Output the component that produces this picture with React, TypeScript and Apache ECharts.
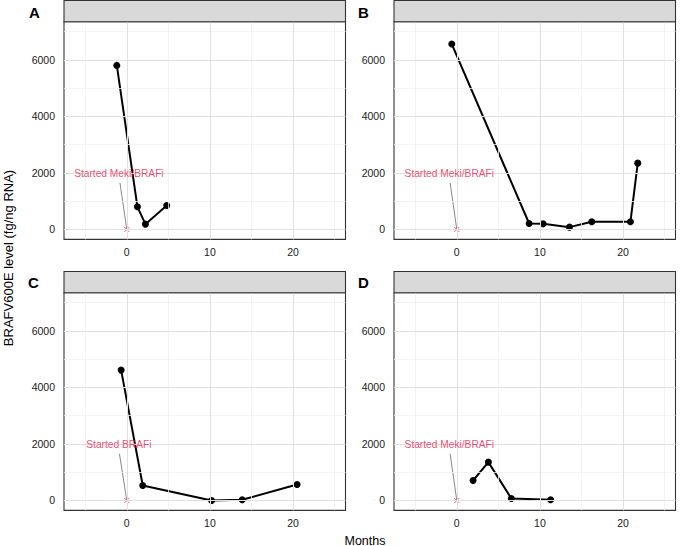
import React, { useEffect, useRef } from 'react';
import * as echarts from 'echarts';

// ---- data ----
const panelLabels = ['A', 'B', 'C', 'D'];
const monthsA = [-1.2, 1.28, 2.24, 4.8];
const levelA = [5800, 802, 189, 849];
const monthsB = [-0.6, 8.7, 10.38, 13.55, 16.23, 20.88, 21.76];
const levelB = [6554, 212, 200, 83, 271, 271, 2346];
const monthsC = [-0.68, 1.92, 10.2, 13.88, 20.48];
const levelC = [4609, 530, 0, 24, 566];
const monthsD = [1.96, 3.8, 6.56, 11.28];
const levelD = [707, 1356, 71, 24];

const treatmentText = ['Started Meki/BRAFi', 'Started Meki/BRAFi', 'Started BRAFi', 'Started Meki/BRAFi'];
const startMonth = [0, 0, 0, 0];
const startLevel = [0, 0, 0, 0];
const textMonth = [-0.95, -0.9, -0.95, -0.9];
const textLevel = [1980, 1980, 1980, 1980];
const segStartMonth = [-0.82, -0.8, -0.88, -0.8];
const segStartLevel = [1650, 1650, 1650, 1650];

const xTicks = [0, 10, 20];
const xMinor = [-5, 5, 15, 25];
const yTicks = [0, 2000, 4000, 6000];
const yMinor = [1000, 3000, 5000, 7000];
const X_MIN = -7.55;
const X_MAX = 26.3;
const Y_MIN = -350;
const Y_MAX = 7345;

const xTitle = 'Months';
const yTitle = 'BRAFV600E level (fg/ng RNA)';

// ---- layout ----
const panelPos = [
  { left: 64, top: 21.7 },
  { left: 394, top: 21.7 },
  { left: 64, top: 292.7 },
  { left: 394, top: 292.7 },
];
const letterPos = [
  [34.5, 12],
  [363.5, 12],
  [33.5, 282],
  [363.5, 282],
];
const PW = 281.5;
const PH = 217.7;
const STRIP_H = 21.2;
const FONT = '"Liberation Sans", Arial, Helvetica, sans-serif';
const RED = '#e8204c';
const MAJOR = '#e0e0e0';
const MINOR = '#f0f0f0';

export default function App() {
  const ref = useRef<HTMLDivElement>(null);
  useEffect(() => {
    if (!ref.current) return;
    const chart = echarts.init(ref.current, undefined, { renderer: 'svg' });
    const months = [monthsA, monthsB, monthsC, monthsD];
    const levels = [levelA, levelB, levelC, levelD];

    const grid: any[] = [];
    const xAxis: any[] = [];
    const yAxis: any[] = [];
    const series: any[] = [];
    const graphic: any[] = [];

    panelPos.forEach((p, i) => {
      grid.push({
        left: p.left,
        top: p.top,
        width: PW,
        height: PH,
        show: true,
        backgroundColor: '#fff',
        borderColor: '#333',
        borderWidth: 1.1,
        containLabel: false,
      });
      xAxis.push({
        type: 'value',
        gridIndex: i,
        min: X_MIN,
        max: X_MAX,
        axisLine: { show: false },
        splitLine: { show: false },
        axisTick: { show: true, length: 4, lineStyle: { color: '#333' }, customValues: xTicks },
        axisLabel: {
          customValues: xTicks,
          formatter: (v: number) => String(v),
          color: '#1a1a1a',
          fontSize: 10.5,
          fontFamily: FONT,
          margin: 7,
        },
      });
      yAxis.push({
        type: 'value',
        gridIndex: i,
        min: Y_MIN,
        max: Y_MAX,
        axisLine: { show: false },
        splitLine: { show: false },
        axisTick: { show: true, length: 4, lineStyle: { color: '#333' }, customValues: yTicks },
        axisLabel: {
          customValues: yTicks,
          formatter: (v: number) => String(v),
          color: '#1a1a1a',
          fontSize: 10.5,
          fontFamily: FONT,
          margin: 9,
        },
      });

      // grid lines via markLine
      const mlData: any[] = [
        ...xMinor.map((v) => ({ xAxis: v, lineStyle: { color: MINOR, width: 0.8, type: 'solid' } })),
        ...yMinor.map((v) => ({ yAxis: v, lineStyle: { color: MINOR, width: 0.8, type: 'solid' } })),
        ...xTicks.map((v) => ({ xAxis: v, lineStyle: { color: MAJOR, width: 1, type: 'solid' } })),
        ...yTicks.map((v) => ({ yAxis: v, lineStyle: { color: MAJOR, width: 1, type: 'solid' } })),
      ];
      series.push({
        type: 'line',
        xAxisIndex: i,
        yAxisIndex: i,
        data: [],
        z: 1,
        silent: true,
        markLine: {
          silent: true,
          symbol: ['none', 'none'],
          label: { show: false },
          emphasis: { disabled: true },
          data: mlData,
        },
      });

      // segment from label to start marker
      series.push({
        type: 'line',
        xAxisIndex: i,
        yAxisIndex: i,
        z: 2,
        silent: true,
        symbol: 'none',
        lineStyle: { color: '#555', width: 0.7 },
        data: [
          [segStartMonth[i], segStartLevel[i]],
          [startMonth[i], startLevel[i]],
        ],
      });

      // data series
      series.push({
        type: 'line',
        xAxisIndex: i,
        yAxisIndex: i,
        z: 4,
        symbol: 'circle',
        symbolSize: 7,
        itemStyle: { color: '#000' },
        lineStyle: { color: '#000', width: 2 },
        data: months[i].map((m, k) => [m, levels[i][k]]),
      });

      // start marker (x)
      series.push({
        type: 'scatter',
        xAxisIndex: i,
        yAxisIndex: i,
        z: 3,
        symbol: 'path://M0,0L10,10M10,0L0,10',
        symbolSize: 5,
        itemStyle: { color: 'none', borderColor: RED, borderWidth: 0.9 },
        data: [[startMonth[i], startLevel[i]]],
      });

      // annotation text
      series.push({
        type: 'scatter',
        xAxisIndex: i,
        yAxisIndex: i,
        z: 5,
        symbolSize: 1,
        itemStyle: { color: 'rgba(0,0,0,0)' },
        label: {
          show: true,
          position: 'inside',
          formatter: treatmentText[i],
          color: RED,
          fontSize: 10.2,
          fontFamily: FONT,
        },
        data: [[textMonth[i], textLevel[i]]],
      });

      // strip
      graphic.push({
        type: 'rect',
        shape: { x: p.left, y: p.top - STRIP_H, width: PW, height: STRIP_H },
        style: { fill: '#d9d9d9', stroke: '#333', lineWidth: 1.1 },
        z: 10,
      });
      graphic.push({
        type: 'text',
        x: letterPos[i][0],
        y: letterPos[i][1],
        style: {
          text: panelLabels[i],
          font: `bold 15px ${FONT}`,
          fill: '#000',
          textAlign: 'center',
          textVerticalAlign: 'middle',
        },
        z: 10,
      });
    });

    graphic.push({
      type: 'text',
      x: 365,
      y: 540.5,
      style: {
        text: xTitle,
        font: `12.5px ${FONT}`,
        fill: '#000',
        textAlign: 'center',
        textVerticalAlign: 'middle',
      },
      z: 10,
    });
    graphic.push({
      type: 'text',
      x: 8,
      y: 258,
      rotation: Math.PI / 2,
      style: {
        text: yTitle,
        font: `13px ${FONT}`,
        fill: '#000',
        textAlign: 'center',
        textVerticalAlign: 'middle',
      },
      z: 10,
    });

    chart.setOption({
      animation: false,
      backgroundColor: '#fff',
      grid,
      xAxis,
      yAxis,
      series,
      graphic,
    });
    return () => chart.dispose();
  }, []);
  return <div ref={ref} style={{ position: 'fixed', left: 0, top: 0, width: 680, height: 546 }} />;
}
